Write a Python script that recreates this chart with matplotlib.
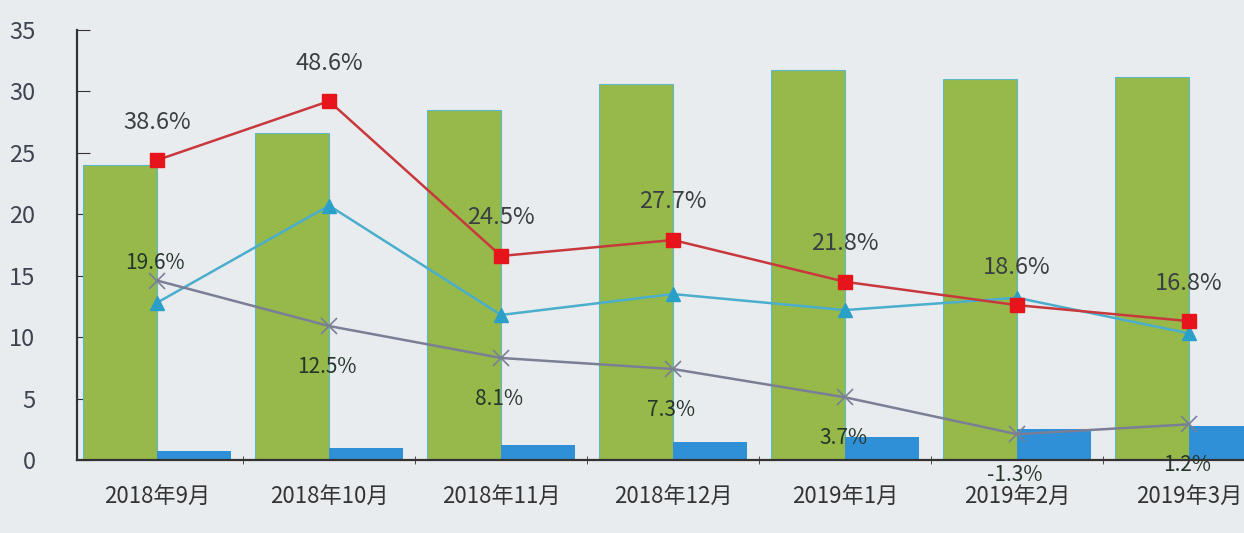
import numpy as np
import matplotlib
matplotlib.use('Agg')
import matplotlib.pyplot as plt

plt.rcParams['font.family'] = ['Noto Sans CJK SC', 'DejaVu Sans']

months = ['2018年9月', '2018年10月', '2018年11月', '2018年12月', '2019年1月', '2019年2月', '2019年3月']
green_bar = [24.0, 26.6, 28.5, 30.6, 31.7, 31.0, 31.2]
blue_bar = [0.7, 1.0, 1.2, 1.5, 1.9, 2.5, 2.8]
red_line = [24.4, 29.2, 16.6, 17.9, 14.5, 12.6, 11.3]
teal_line = [12.8, 20.7, 11.8, 13.5, 12.2, 13.2, 10.3]
gray_line = [14.6, 10.9, 8.3, 7.4, 5.1, 2.1, 2.9]
red_labels = ['38.6%', '48.6%', '24.5%', '27.7%', '21.8%', '18.6%', '16.8%']
gray_labels = ['19.6%', '12.5%', '8.1%', '7.3%', '3.7%', '-1.3%', '1.2%']


def main():
    x = np.arange(len(months))
    w = 0.43

    fig = plt.figure(figsize=(12.44, 5.33), dpi=100)
    fig.patch.set_facecolor('#e9ecef')
    ax = fig.add_axes([0.062, 0.137, 0.938, 0.807])
    ax.set_facecolor('#e9ecef')

    ax.bar(x - w / 2, green_bar, width=w, color='#96b94a', edgecolor='#5fb8c8', linewidth=0.8, zorder=2)
    ax.bar(x + w / 2, blue_bar, width=w, color='#2f90d8', zorder=2)

    ax.plot(x, red_line, color='#c8383c', linewidth=1.8, marker='s', markersize=10,
            markerfacecolor='#e8141b', markeredgecolor='#e8141b', zorder=4)
    ax.plot(x, teal_line, color='#4aaecc', linewidth=1.8, marker='^', markersize=10,
            markerfacecolor='#2aa0c8', markeredgecolor='#2aa0c8', zorder=3)
    ax.plot(x, gray_line, color='#7b7f96', linewidth=1.8, marker='x', markersize=11,
            markeredgewidth=1.2, zorder=3)

    for i in range(len(months)):
        ax.annotate(red_labels[i], (x[i], red_line[i]), xytext=(0, 38), textcoords='offset pixels',
                    ha='center', va='center', fontsize=17, color='#3a3f44', zorder=5)
        dy = 18 if i == 0 else -41
        ax.annotate(gray_labels[i], (x[i], gray_line[i]), xytext=(-2, dy), textcoords='offset pixels',
                    ha='center', va='center', fontsize=15, color='#26352a', zorder=5)

    ax.set_xlim(-0.465, 6.32)
    ax.set_ylim(0, 35)
    ax.set_yticks(np.arange(0, 36, 5))
    ax.set_xticks(x)
    ax.set_xticklabels(months)
    ax.set_xticks(x[:-1] + 0.5, minor=True)
    ax.tick_params(axis='x', which='major', length=0, pad=18, labelsize=16, labelcolor='#333333')
    ax.tick_params(axis='x', which='minor', length=6, direction='inout', color='#333333')
    ax.tick_params(axis='y', direction='in', length=9, pad=30, labelsize=17,
                   labelcolor='#3d4450', color='#333333')

    for s in ['top', 'right']:
        ax.spines[s].set_visible(False)
    ax.spines['left'].set_color('#333333')
    ax.spines['bottom'].set_color('#333333')
    ax.spines['left'].set_linewidth(1.6)
    ax.spines['bottom'].set_linewidth(1.6)

    fig.savefig('out.png', dpi=100, facecolor=fig.get_facecolor())


if __name__ == '__main__':
    main()
